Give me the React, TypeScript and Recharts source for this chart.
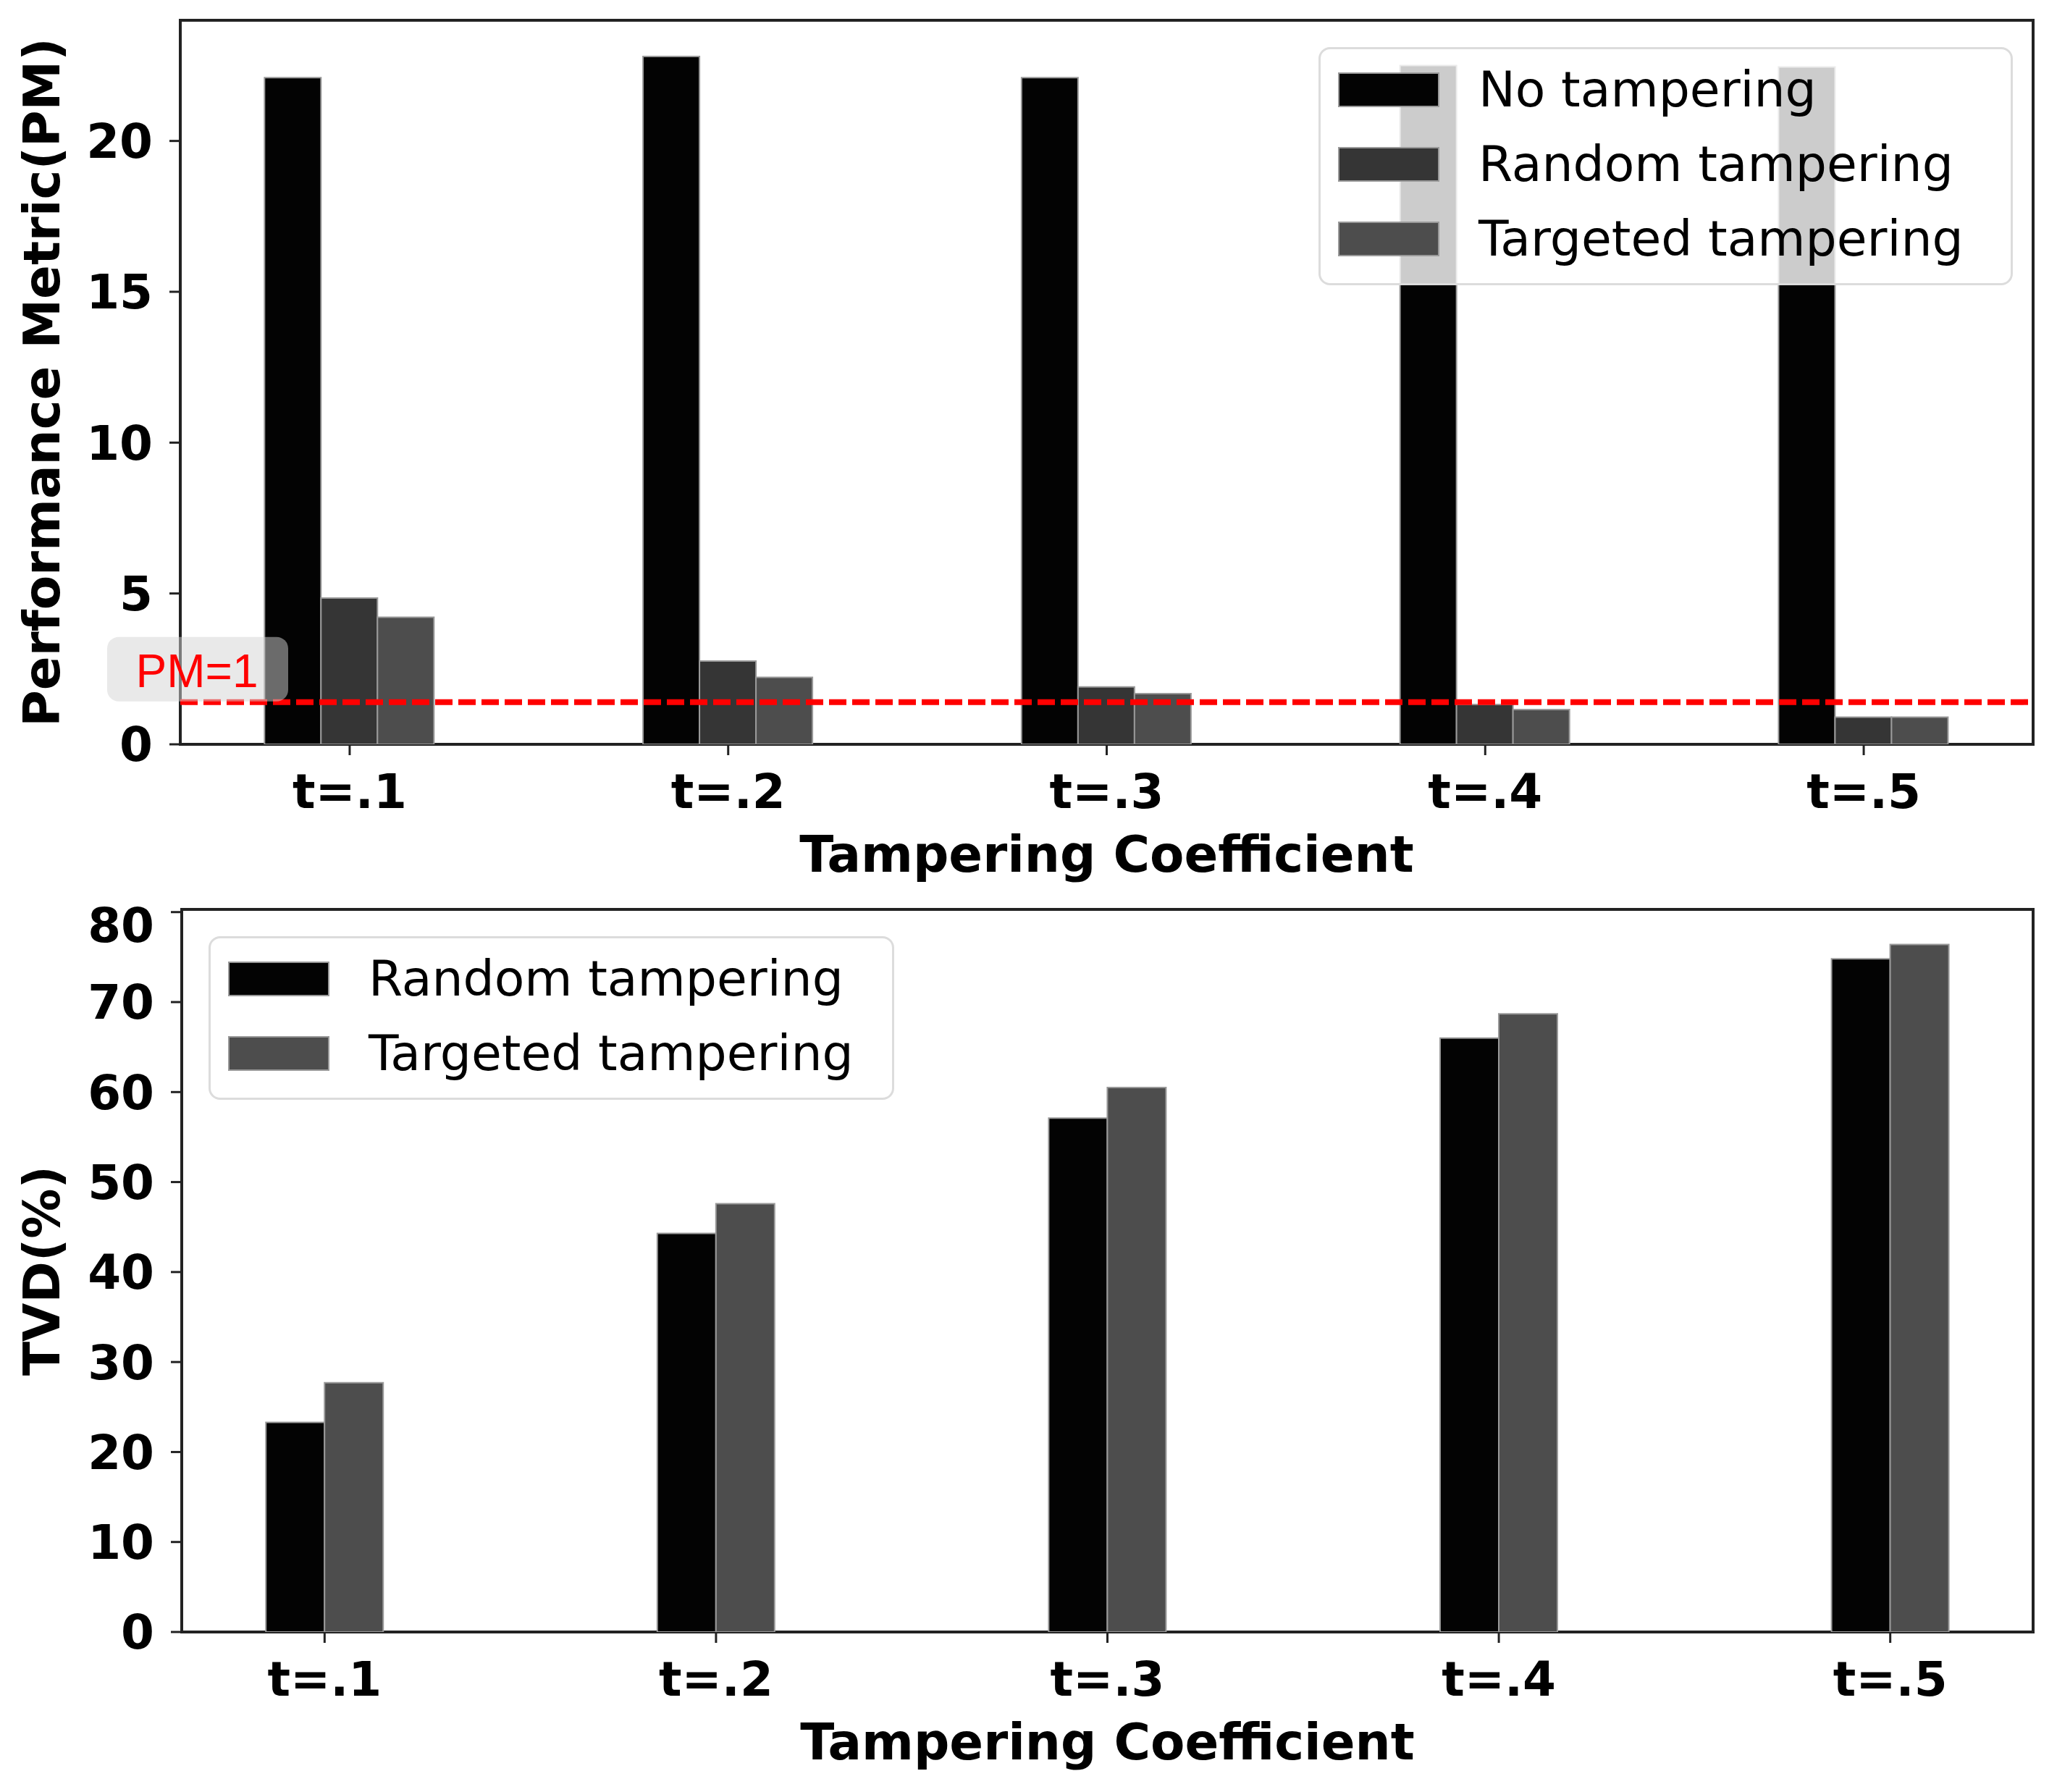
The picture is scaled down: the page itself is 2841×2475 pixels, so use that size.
import React from "react";
import {
  BarChart,
  Bar,
  XAxis,
  YAxis,
  Legend,
  ReferenceLine,
  ReferenceArea,
} from "recharts";

const categories = ["t=.1", "t=.2", "t=.3", "t=.4", "t=.5"];

// top panel: performance metric
const noTampering = [22.1, 22.8, 22.1, 22.5, 22.45];
const randomPM = [4.85, 2.76, 1.9, 1.32, 0.9];
const targetedPM = [4.21, 2.22, 1.68, 1.15, 0.9];
const pmThreshold = 1.4;
const pmTicks = [0, 5, 10, 15, 20];

// bottom panel: TVD (%)
const randomTVD = [23.3, 44.3, 57.1, 66.0, 74.8];
const targetedTVD = [27.7, 47.6, 60.5, 68.7, 76.4];
const tvdTicks = [0, 10, 20, 30, 40, 50, 60, 70, 80];

const xTicks = categories.map((_, i) => i);

const pmData = categories.map((c, i) => ({
  x: i,
  name: c,
  no: noTampering[i],
  random: randomPM[i],
  targeted: targetedPM[i],
}));

const tvdData = categories.map((c, i) => ({
  x: i,
  name: c,
  random: randomTVD[i],
  targeted: targetedTVD[i],
}));

const BOLD = "'DejaVu Sans', sans-serif";
const FRAME = "#222";
const EDGE = "#999";

const tickStyle = { fill: "#000", fontSize: 66, fontWeight: 700, fontFamily: BOLD };

const YTitle = ({ viewBox, text }: any) => {
  const cx = viewBox.x + 58;
  const cy = viewBox.y + viewBox.height / 2;
  return (
    <text
      x={cx}
      y={cy}
      transform={`rotate(-90, ${cx}, ${cy})`}
      textAnchor="middle"
      dominantBaseline="central"
      fontFamily={BOLD}
      fontWeight={700}
      fontSize={69}
      fill="#000"
    >
      {text}
    </text>
  );
};

const XTitle = ({ viewBox, text }: any) => (
  <text
    x={viewBox.x + viewBox.width / 2}
    y={viewBox.y + 152}
    textAnchor="middle"
    dominantBaseline="central"
    fontFamily={BOLD}
    fontWeight={700}
    fontSize={69}
    fill="#000"
  >
    {text}
  </text>
);

// grey rounded tag sitting on the threshold line
const PmTag = ({ viewBox }: any) => {
  const left = viewBox.x - 101;
  const top = viewBox.y - 90;
  return (
    <g>
      <rect x={left} y={top} width={250} height={89} rx={16} fill="#d3d3d3" fillOpacity={0.5} />
      <text
        x={left + 124}
        y={viewBox.y - 21}
        textAnchor="middle"
        fontFamily="'Liberation Sans', Arial, sans-serif"
        fontSize={64}
        fill="#ff0000"
      >
        PM=1
      </text>
    </g>
  );
};

const LegendBox = ({ payload, width }: any) => (
  <div
    style={{
      boxSizing: "border-box",
      width,
      padding: "4px 0 10px 0",
      border: "3px solid #dcdcdc",
      borderRadius: 16,
      background: "rgba(255,255,255,0.8)",
      fontFamily: BOLD,
      fontSize: 68,
      color: "#000",
    }}
  >
    {(payload || []).map((p: any) => (
      <div
        key={p.value}
        style={{ display: "flex", alignItems: "center", height: 103, paddingLeft: 24 }}
      >
        <div
          style={{
            boxSizing: "border-box",
            width: 140,
            height: 48,
            background: p.color,
            border: `2px solid ${EDGE}`,
            marginRight: 54,
          }}
        />
        <span style={{ lineHeight: 1, whiteSpace: "nowrap" }}>{p.value}</span>
      </div>
    ))}
  </div>
);

export default function App() {
  const pmDomain: [number, number] = [-0.4475, 4.4475];
  const tvdDomain: [number, number] = [-0.365, 4.365];
  return (
    <div style={{ width: 2841, height: 2475, background: "#fff", position: "relative" }}>
      <style>{"body{margin:0}"}</style>

      <BarChart
        width={2841}
        height={1240}
        data={pmData}
        margin={{ top: 28, right: 33, left: 0, bottom: 12 }}
        barGap={0}
        barCategoryGap="27.5%"
      >
        <XAxis
          dataKey="x"
          type="number"
          domain={pmDomain}
          ticks={xTicks}
          allowDataOverflow
          tickFormatter={(v: number) => categories[v]}
          height={200}
          axisLine={false}
          tickSize={15}
          tickMargin={26}
          tickLine={{ stroke: FRAME, strokeWidth: 3 }}
          tick={tickStyle}
          label={<XTitle text="Tampering Coefficient" />}
        />
        <YAxis
          domain={[0, 24]}
          ticks={pmTicks}
          allowDataOverflow
          width={249}
          axisLine={false}
          tickSize={15}
          tickMargin={23}
          tickLine={{ stroke: FRAME, strokeWidth: 3 }}
          tick={tickStyle}
          label={<YTitle text="Performance Metric(PM)" />}
        />
        <Bar dataKey="no" name="No tampering" fill="#030303" stroke={EDGE} strokeWidth={2} isAnimationActive={false} />
        <Bar dataKey="random" name="Random tampering" fill="#353535" stroke={EDGE} strokeWidth={2} isAnimationActive={false} />
        <Bar dataKey="targeted" name="Targeted tampering" fill="#4d4d4d" stroke={EDGE} strokeWidth={2} isAnimationActive={false} />
        <ReferenceArea
          x1={pmDomain[0]}
          x2={pmDomain[1]}
          y1={0}
          y2={24}
          fill="none"
          stroke={FRAME}
          strokeWidth={4}
          ifOverflow="visible"
        />
        <ReferenceLine
          y={pmThreshold}
          stroke="#ff0000"
          strokeWidth={8}
          strokeDasharray="24 8"
          label={<PmTag />}
        />
        <Legend
          layout="vertical"
          align="center"
          verticalAlign="middle"
          wrapperStyle={{ left: 1821, top: 65, width: 959 }}
          content={(props: any) => <LegendBox {...props} width={959} />}
        />
      </BarChart>

      <BarChart
        width={2841}
        height={1235}
        data={tvdData}
        margin={{ top: 16, right: 33, left: 0, bottom: 21 }}
        barGap={0}
        barCategoryGap="35%"
      >
        <XAxis
          dataKey="x"
          type="number"
          domain={tvdDomain}
          ticks={xTicks}
          allowDataOverflow
          tickFormatter={(v: number) => categories[v]}
          height={200}
          axisLine={false}
          tickSize={15}
          tickMargin={26}
          tickLine={{ stroke: FRAME, strokeWidth: 3 }}
          tick={tickStyle}
          label={<XTitle text="Tampering Coefficient" />}
        />
        <YAxis
          domain={[0, 80.3]}
          ticks={tvdTicks}
          allowDataOverflow
          width={251}
          axisLine={false}
          tickSize={15}
          tickMargin={23}
          tickLine={{ stroke: FRAME, strokeWidth: 3 }}
          tick={tickStyle}
          label={<YTitle text="TVD(%)" />}
        />
        <Bar dataKey="random" name="Random tampering" fill="#030303" stroke={EDGE} strokeWidth={2} isAnimationActive={false} />
        <Bar dataKey="targeted" name="Targeted tampering" fill="#4d4d4d" stroke={EDGE} strokeWidth={2} isAnimationActive={false} />
        <ReferenceArea
          x1={tvdDomain[0]}
          x2={tvdDomain[1]}
          y1={0}
          y2={80.3}
          fill="none"
          stroke={FRAME}
          strokeWidth={4}
          ifOverflow="visible"
        />
        <Legend
          layout="vertical"
          align="center"
          verticalAlign="middle"
          wrapperStyle={{ left: 288, top: 53, width: 947 }}
          content={(props: any) => <LegendBox {...props} width={947} />}
        />
      </BarChart>
    </div>
  );
}
